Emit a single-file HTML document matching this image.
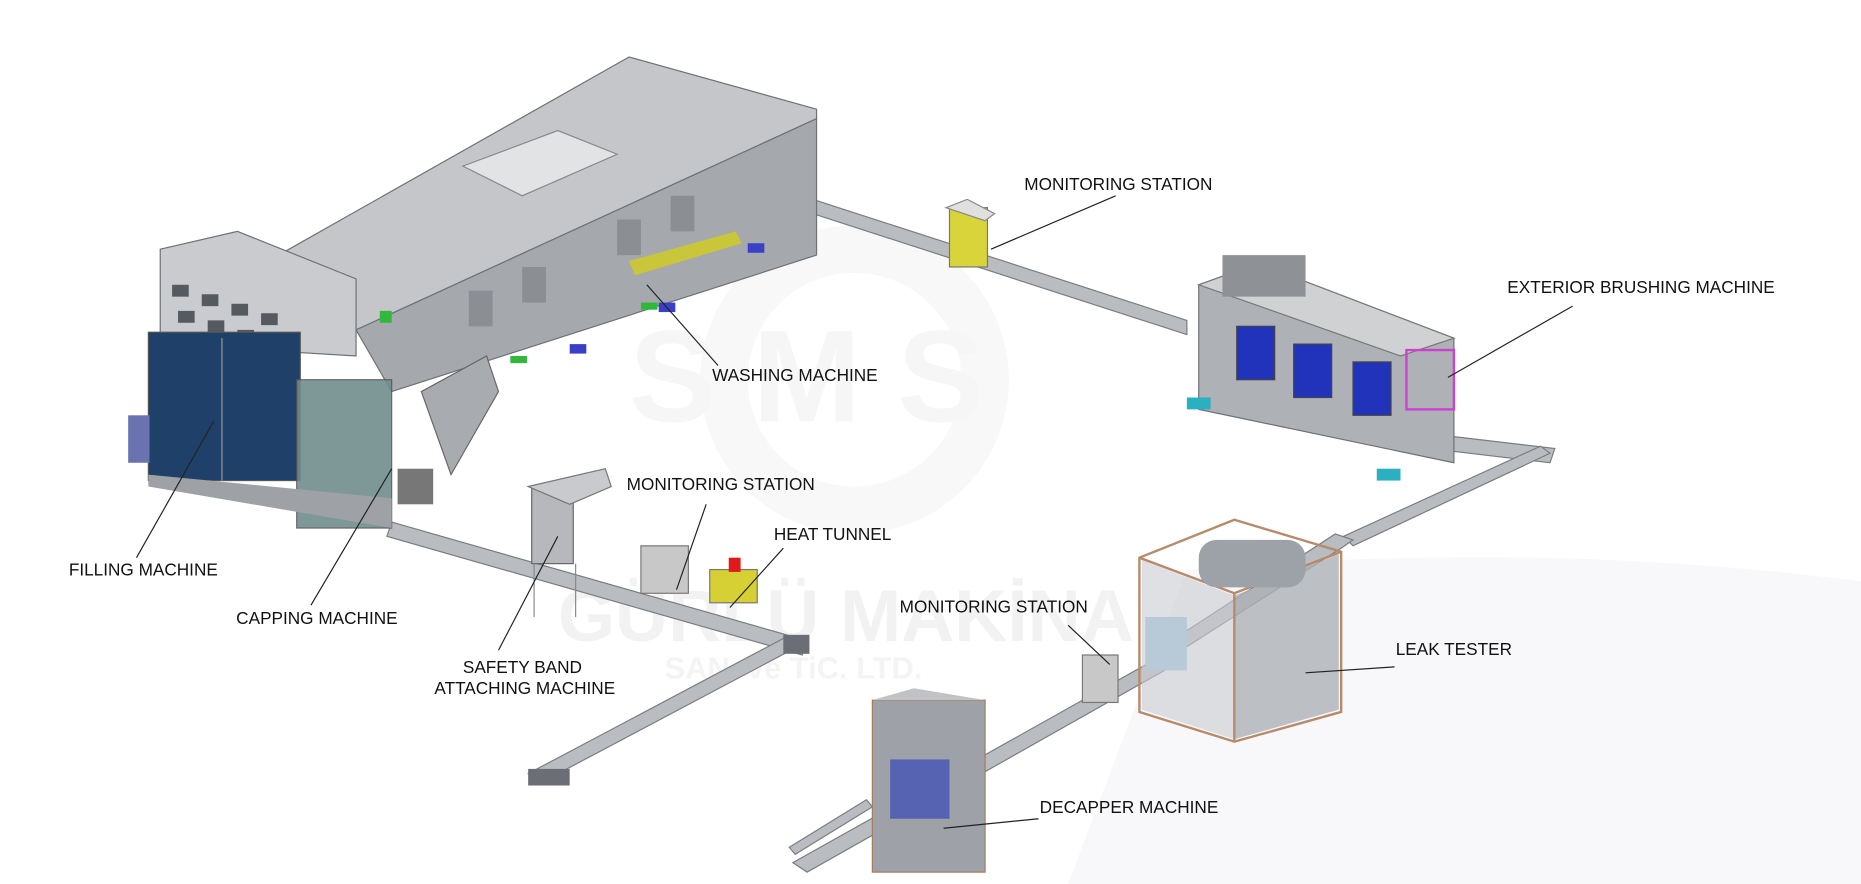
<!DOCTYPE html>
<html><head><meta charset="utf-8"><style>
html,body{margin:0;padding:0;background:#fff;}
svg{display:block}
text{font-family:"Liberation Sans",sans-serif;font-size:14.5px;fill:#111}
</style></head><body>
<svg width="1861" height="884" viewBox="0 0 1568 745" preserveAspectRatio="none" xmlns="http://www.w3.org/2000/svg">
<rect width="1568" height="745" fill="#fff"/>
<path d="M1000 480 Q1300 455 1568 490 L1568 745 L900 745 Z" fill="#f8f8fa"/>
<g opacity="0.35">
<circle cx="720" cy="320" r="110" fill="none" stroke="#ececec" stroke-width="40"/>
<text x="530" y="355" style="font-size:110px;font-weight:bold;fill:#e6e6e6">S M S</text>
<text x="470" y="540" style="font-size:62px;font-weight:bold;fill:#dcdcdc">GÜRLÜ MAKİNA</text>
<text x="560" y="572" style="font-size:26px;font-weight:bold;fill:#e0e0e0">SAN. ve TiC. LTD.</text>
</g>
<g fill="#b9bcc0" stroke="#7a7d80" stroke-width="1">
<polygon points="660,160 1000,270 1000,282 660,172"/>
<polygon points="1200,365 1310,378 1306,390 1196,377"/>
<polygon points="1306,382 1140,460 1132,452 1298,376"/>
<polygon points="1140,455 1130,462 1000,545 990,538 1125,450"/>
<polygon points="990,560 680,735 668,727 980,552"/>
<polygon points="330,440 680,540 676,552 326,452"/>
<polygon points="672,545 455,660 445,652 662,537"/>
<polygon points="735,680 670,720 665,714 730,674"/>
</g>
<polygon points="240,212 530,48 688,92 688,100 300,278" fill="#c4c6c9" stroke="#6e7174"/>
<polygon points="300,278 688,100 688,215 330,330" fill="#a5a8ad" stroke="#6e7174"/>
<polygon points="390,140 470,110 520,130 440,165" fill="#e2e3e5" stroke="#888"/>
<g fill="#8b8f94">
<rect x="395" y="245" width="20" height="30"/><rect x="440" y="225" width="20" height="30"/><rect x="520" y="185" width="20" height="30"/><rect x="565" y="165" width="20" height="30"/>
</g>
<g fill="#3a3fc8"><rect x="480" y="290" width="14" height="8"/><rect x="555" y="255" width="14" height="8"/><rect x="630" y="205" width="14" height="8"/></g>
<g fill="#2fb83a"><rect x="430" y="300" width="14" height="6"/><rect x="540" y="255" width="14" height="6"/><rect x="320" y="262" width="10" height="10"/></g>
<polygon points="530,220 620,195 625,205 535,232" fill="#c9c63a"/>
<polygon points="135,210 200,195 300,235 300,300 135,290" fill="#c9cbce" stroke="#6e7174"/>
<g fill="#555a60">
<rect x="145" y="240" width="14" height="10"/><rect x="170" y="248" width="14" height="10"/><rect x="195" y="256" width="14" height="10"/><rect x="220" y="264" width="14" height="10"/>
<rect x="150" y="262" width="14" height="10"/><rect x="175" y="270" width="14" height="10"/><rect x="200" y="278" width="14" height="10"/><rect x="225" y="285" width="14" height="10"/>
</g>
<rect x="125" y="280" width="128" height="125" fill="#1f4068" stroke="#555"/>
<line x1="187" y1="285" x2="187" y2="405" stroke="#999"/>
<rect x="250" y="320" width="80" height="125" fill="#6f8d8c" stroke="#555" opacity="0.9"/>
<polygon points="125,400 330,420 330,445 125,410" fill="#9ea1a6"/>
<rect x="108" y="350" width="18" height="40" fill="#6a72b0"/>
<polygon points="355,330 410,300 420,330 380,400" fill="#a8abb0" stroke="#666"/>
<rect x="335" y="395" width="30" height="30" fill="#777"/>
<rect x="448" y="410" width="35" height="65" fill="#b6b8bc" stroke="#666"/>
<polygon points="445,410 510,395 515,410 480,425" fill="#c8cacd" stroke="#777"/>
<line x1="450" y1="475" x2="450" y2="520" stroke="#888"/><line x1="485" y1="475" x2="485" y2="520" stroke="#888"/>
<rect x="540" y="460" width="40" height="40" fill="#c8c8c8" stroke="#777"/>
<rect x="598" y="480" width="40" height="28" fill="#d7d035" stroke="#777"/>
<rect x="614" y="470" width="10" height="12" fill="#e01a1a"/>
<rect x="800" y="175" width="32" height="50" fill="#d8d43a" stroke="#777"/>
<polygon points="797,175 815,168 838,180 830,186" fill="#e0e0e0" stroke="#888"/>
<polygon points="1010,240 1060,222 1225,285 1225,390 1010,345" fill="#aeb1b5" stroke="#6e7174"/>
<polygon points="1010,240 1060,222 1225,285 1180,300" fill="#cfd1d3" stroke="#777"/>
<rect x="1030" y="215" width="70" height="35" fill="#8e9296"/>
<g fill="#2233bb" stroke="#444"><rect x="1042" y="275" width="32" height="45"/><rect x="1090" y="290" width="32" height="45"/><rect x="1140" y="305" width="32" height="45"/></g>
<rect x="1185" y="295" width="40" height="50" fill="none" stroke="#d040d0" stroke-width="2"/>
<rect x="1000" y="335" width="20" height="10" fill="#2ab0c0"/><rect x="1160" y="395" width="20" height="10" fill="#2ab0c0"/>
<polygon points="962,472 1040,502 1040,623 962,598" fill="#c9cbd0" opacity="0.6"/>
<polygon points="1040,502 1128,467 1128,598 1040,623" fill="#adb0b5" opacity="0.8"/>
<g fill="none" stroke="#b78a6a" stroke-width="2">
<polygon points="960,470 1040,438 1130,465 1130,600 1040,625 960,600"/>
<line x1="960" y1="470" x2="1040" y2="500"/><line x1="1040" y1="500" x2="1130" y2="465"/><line x1="1040" y1="500" x2="1040" y2="625"/>
</g>
<rect x="1010" y="455" width="90" height="40" fill="#9da1a8" rx="15"/>
<rect x="965" y="520" width="35" height="45" fill="#b8c9d8"/>
<rect x="912" y="552" width="30" height="40" fill="#c8c8c8" stroke="#777"/>
<rect x="735" y="590" width="95" height="145" fill="#9ea2a8" stroke="#a57b5b"/>
<polygon points="735,590 770,580 830,590" fill="#c0c2c5"/>
<rect x="750" y="640" width="50" height="50" fill="#3848b8" opacity="0.7"/>
<rect x="445" y="648" width="35" height="14" fill="#6b6f75"/>
<rect x="660" y="535" width="22" height="16" fill="#6b6f75"/>
<g stroke="#222" stroke-width="1">
<line x1="940" y1="165" x2="835" y2="210"/>
<line x1="1325" y1="258" x2="1220" y2="318"/>
<line x1="605" y1="308" x2="545" y2="240"/>
<line x1="595" y1="425" x2="570" y2="497"/>
<line x1="660" y1="462" x2="615" y2="512"/>
<line x1="115" y1="470" x2="180" y2="355"/>
<line x1="262" y1="510" x2="330" y2="395"/>
<line x1="420" y1="548" x2="470" y2="452"/>
<line x1="900" y1="527" x2="935" y2="560"/>
<line x1="1175" y1="562" x2="1100" y2="567"/>
<line x1="875" y1="690" x2="795" y2="698"/>
</g>
<text x="863" y="160">MONITORING STATION</text>
<text x="1270" y="247">EXTERIOR BRUSHING MACHINE</text>
<text x="600" y="321">WASHING MACHINE</text>
<text x="528" y="413">MONITORING STATION</text>
<text x="652" y="455">HEAT TUNNEL</text>
<text x="58" y="485">FILLING MACHINE</text>
<text x="199" y="526">CAPPING MACHINE</text>
<text x="390" y="567">SAFETY BAND</text>
<text x="366" y="585">ATTACHING MACHINE</text>
<text x="758" y="516">MONITORING STATION</text>
<text x="1176" y="552">LEAK TESTER</text>
<text x="876" y="685">DECAPPER MACHINE</text>
</svg>
</body></html>
